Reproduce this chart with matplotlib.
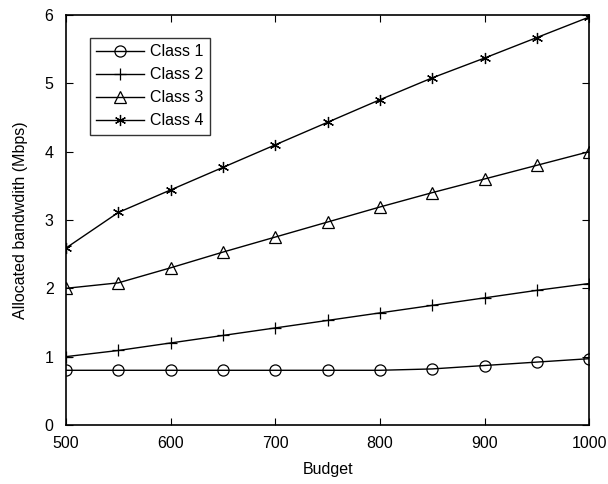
import matplotlib
matplotlib.use("Agg")
from matplotlib import pyplot as plt

plt.rcParams['font.family'] = ['Liberation Sans', 'DejaVu Sans']

budget = [500, 550, 600, 650, 700, 750, 800, 850, 900, 950, 1000]
class1 = [0.80, 0.80, 0.80, 0.80, 0.80, 0.80, 0.80, 0.82, 0.87, 0.92, 0.97]
class2 = [1.00, 1.09, 1.20, 1.31, 1.42, 1.53, 1.64, 1.75, 1.86, 1.97, 2.07]
class3 = [2.00, 2.08, 2.30, 2.53, 2.75, 2.97, 3.19, 3.40, 3.60, 3.80, 4.00]
class4 = [2.59, 3.11, 3.44, 3.77, 4.10, 4.43, 4.76, 5.08, 5.37, 5.67, 5.97]

fig = plt.figure(figsize=(6.08, 4.84), dpi=100)
ax = fig.add_axes([0.1086, 0.122, 0.8604, 0.847])

style = dict(color='black', linewidth=1.0, markersize=8, markerfacecolor='none',
             markeredgecolor='black', markeredgewidth=0.9)
ax.plot(budget, class1, marker='o', label='Class 1', **style)
ax.plot(budget, class2, marker='+', label='Class 2', **style)
ax.plot(budget, class3, marker='^', label='Class 3', **style)
ax.plot(budget, class4, marker=(6, 2, 0), label='Class 4', **style)

ax.set_xlim(500, 1000)
ax.set_ylim(0, 6)
ax.set_xticks(range(500, 1001, 100))
ax.set_yticks(range(0, 7))
ax.tick_params(direction='in', top=True, right=True, length=5, labelsize=11.5)
ax.tick_params(axis='y', pad=9)
ax.tick_params(axis='x', pad=8)
for s in ax.spines.values():
    s.set_linewidth(1.2)

ax.set_xlabel('Budget', fontsize=11.5, labelpad=8)
ax.set_ylabel('Allocated bandwdith (Mbps)', fontsize=11.5, labelpad=12)

leg = ax.legend(loc='upper left', bbox_to_anchor=(0.046, 0.944), borderaxespad=0,
                fontsize=11.5, frameon=True, fancybox=False, edgecolor='black',
                handlelength=3.0, handletextpad=0.35, borderpad=0.4,
                labelspacing=0.5)
leg.get_frame().set_linewidth(1.0)

fig.savefig('out.png', dpi=100)
